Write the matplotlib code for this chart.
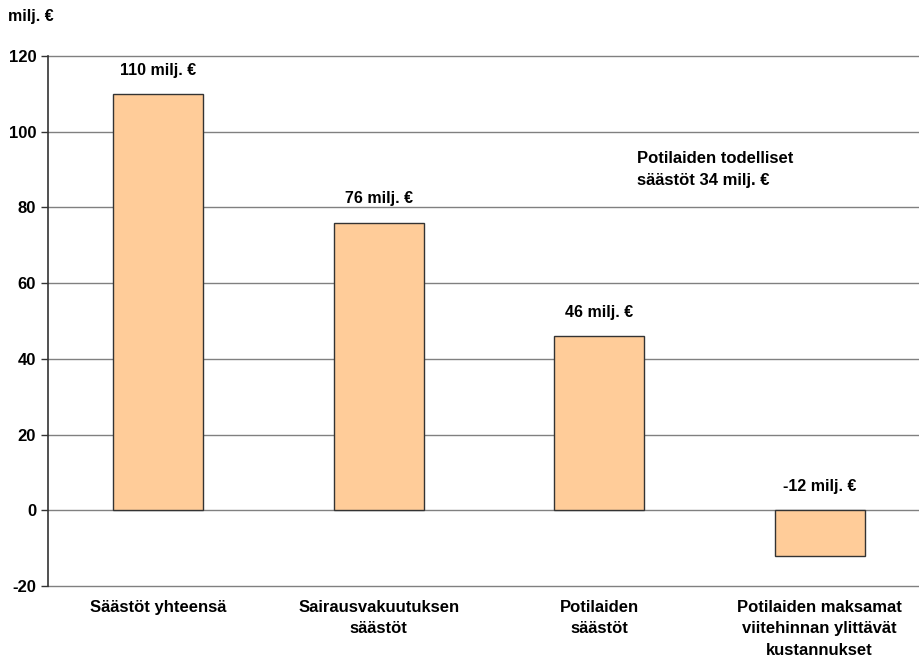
import matplotlib.pyplot as plt

categories = ["Säästöt yhteensä", "Sairausvakuutuksen\nsäästöt",
              "Potilaiden\nsäästöt",
              "Potilaiden maksamat\nviitehinnan ylittävät\nkustannukset"]
values = [110, 76, 46, -12]
bar_labels = ["110 milj. €", "76 milj. €", "46 milj. €", "-12 milj. €"]
y_ticks = [-20, 0, 20, 40, 60, 80, 100, 120]

plt.rcParams['font.family'] = ['Liberation Sans', 'DejaVu Sans']
plt.rcParams['font.weight'] = 'bold'

fig = plt.figure(figsize=(9.2, 6.6), dpi=100)
ax = fig.add_axes([48 / 920, 1 - 586 / 660, 882 / 920, 530 / 660])

x = range(len(categories))
ax.bar(x, values, width=0.41, color='#FFCC99', edgecolor='#333333', linewidth=1, zorder=3)

for i, (v, lab) in enumerate(zip(values, bar_labels)):
    ax.annotate(lab, (i, max(v, 0)), xytext=(0, 17), textcoords='offset points',
                ha='center', va='center', fontsize=11.5, fontweight='bold')

ax.set_xlim(-0.5, 3.5)
ax.set_ylim(-20, 120)
ax.set_yticks(y_ticks)
ax.set_yticklabels([str(t) for t in y_ticks], fontsize=12, fontweight='bold')
ax.set_xticks(list(x))
ax.set_xticklabels(categories, fontsize=12, fontweight='bold', linespacing=1.55)
ax.tick_params(axis='x', length=0, pad=10)
ax.tick_params(axis='y', length=5, width=1, color='#333333', direction='out')

# horizontal grid lines, including the -20 and 120 edges
for t in y_ticks:
    ax.axhline(t, color='#808080', linewidth=1, zorder=0, clip_on=False)
for side in ['top', 'right', 'bottom']:
    ax.spines[side].set_visible(False)
ax.spines['left'].set_color('#333333')
ax.spines['left'].set_linewidth(1.2)

ax.text(2.17, 90, "Potilaiden todelliset\nsäästöt 34 milj. €", ha='left', va='center',
        fontsize=12, fontweight='bold', linespacing=1.55)

fig.text(8 / 920, 1 - 17 / 660, "milj. €", ha='left', va='center',
         fontsize=11.5, fontweight='bold')

fig.savefig("out.png", dpi=100)
